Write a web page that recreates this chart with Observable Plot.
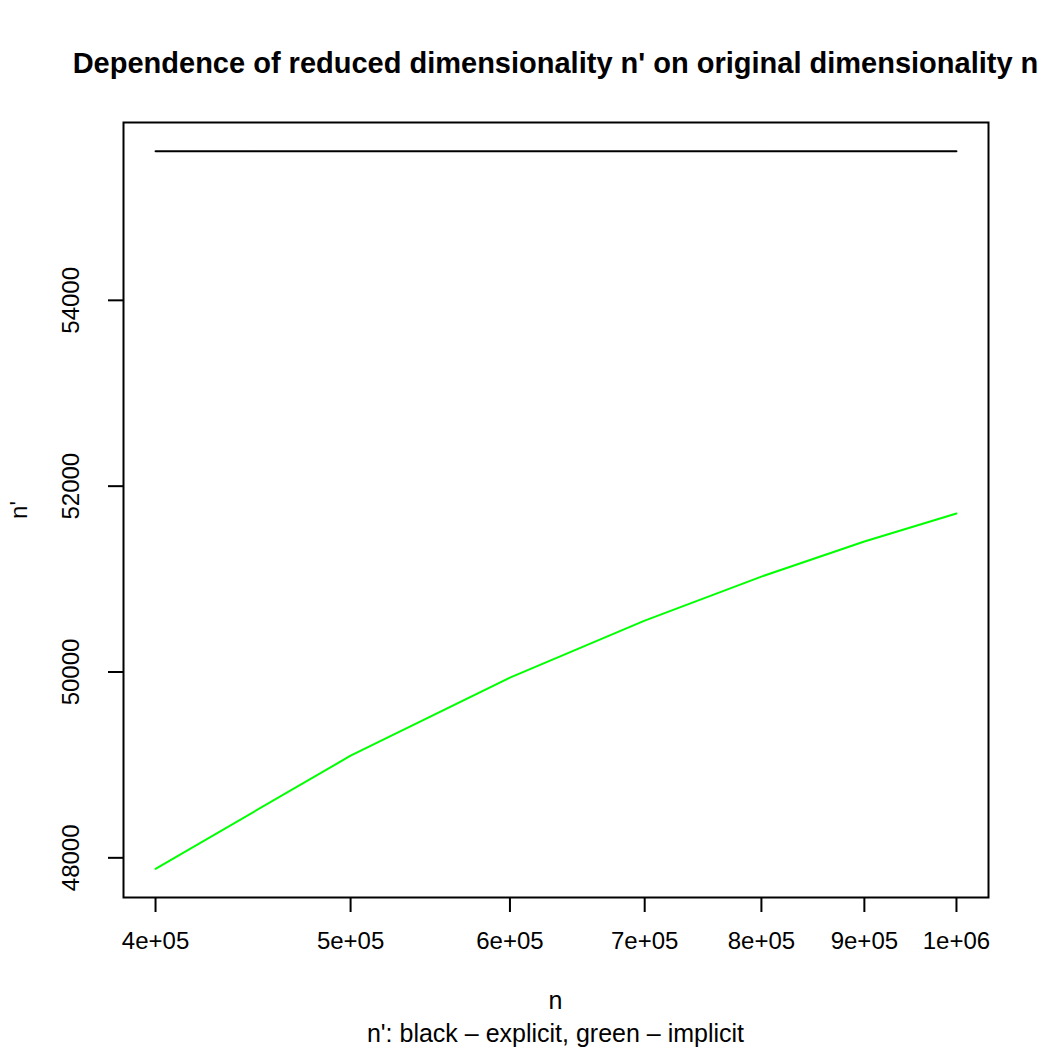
<!DOCTYPE html>
<html>
<head>
<meta charset="utf-8">
<script src="https://cdn.jsdelivr.net/npm/d3@7"></script>
<script src="https://cdn.jsdelivr.net/npm/@observablehq/plot@0.6"></script>
<style>
  body { margin: 0; background: #fff; font-family: "Liberation Sans", Arial, Helvetica, sans-serif; }
  #wrap { width: 1050px; height: 1050px; position: relative; background: #fff; }
  #title { position: absolute; left: 0; width: 1111px; top: 46px; text-align: center; font-weight: bold; font-size: 29px; line-height: 34px; color: #000; white-space: nowrap; }
  #chart { position: absolute; left: 0; top: 100px; }
  #xlab { position: absolute; left: 0; width: 1111px; top: 986px; text-align: center; font-size: 25px; line-height: 28px; }
  #cap { position: absolute; left: 0; width: 1111px; top: 1019px; text-align: center; font-size: 25px; line-height: 28px; }
</style>
</head>
<body>
<div id="wrap">
  <div id="title">Dependence of reduced dimensionality n' on original dimensionality n</div>
  <div id="chart"></div>
  <div id="xlab">n</div>
  <div id="cap">n': black – explicit, green – implicit</div>
</div>
<script>
const nValues = [400000, 500000, 600000, 700000, 800000, 900000, 1000000];
const explicitValues = [55605, 55605, 55605, 55605, 55605, 55605, 55605];
const implicitValues = [47882, 49099, 49939, 50553, 51027, 51404, 51706];
const xTicks = [400000, 500000, 600000, 700000, 800000, 900000, 1000000];
const xTickLabels = ["4e+05", "5e+05", "6e+05", "7e+05", "8e+05", "9e+05", "1e+06"];
const yTicks = [48000, 50000, 52000, 54000];
const yTickLabels = ["48000", "50000", "52000", "54000"];

const explicitData = nValues.map((n, i) => ({n, v: explicitValues[i]}));
const implicitData = nValues.map((n, i) => ({n, v: implicitValues[i]}));
const yTickData = yTicks.map((v, i) => ({v, label: yTickLabels[i]}));

// R-style 4% padding of the data range
const lx0 = Math.log10(d3.min(nValues)), lx1 = Math.log10(d3.max(nValues));
const px = (lx1 - lx0) * 0.04;
const xDomain = [Math.pow(10, lx0 - px), Math.pow(10, lx1 + px)];
const allY = explicitValues.concat(implicitValues);
const y0 = d3.min(allY), y1 = d3.max(allY), py = (y1 - y0) * 0.04;
const yDomain = [y0 - py, y1 + py];

const chart = Plot.plot({
  width: 1050,
  height: 890,
  marginLeft: 123,
  marginRight: 62,
  marginTop: 22,
  marginBottom: 93,
  style: { fontFamily: "'Liberation Sans', Arial, Helvetica, sans-serif", fontSize: "24px", color: "#000", background: "#fff", overflow: "visible" },
  x: { type: "log", domain: xDomain },
  y: { domain: yDomain },
  marks: [
    Plot.frame({ stroke: "#000", strokeWidth: 2 }),
    Plot.axisX({ ticks: xTicks, tickFormat: d => xTickLabels[xTicks.indexOf(d)], tickSize: 15, tickPadding: 19, strokeWidth: 2, label: null, fontSize: 24 }),
    Plot.axisY({ ticks: yTicks, tickSize: 15, strokeWidth: 2, tickFormat: () => "", label: "n'", labelArrow: "none", labelAnchor: "center", labelOffset: 114, fontSize: 24 }),
    Plot.text(yTickData, { y: "v", text: "label", frameAnchor: "left", rotate: -90, textAnchor: "middle", lineAnchor: "middle", dx: -52, fontSize: 24 }),
    Plot.line(explicitData, { x: "n", y: "v", stroke: "#000000", strokeWidth: 2 }),
    Plot.line(implicitData, { x: "n", y: "v", stroke: "#00FF00", strokeWidth: 2 })
  ]
});
document.getElementById("chart").appendChild(chart);
</script>
</body>
</html>
